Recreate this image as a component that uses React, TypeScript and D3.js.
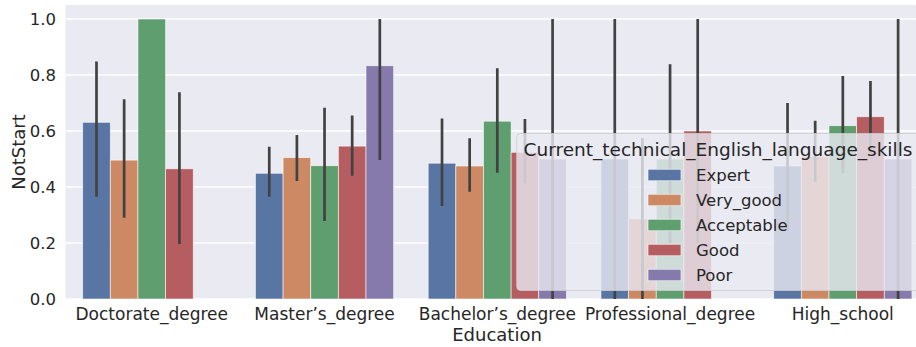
import React from "react";
import * as d3 from "d3";

const categories = ["Doctorate_degree", "Master’s_degree", "Bachelor’s_degree", "Professional_degree", "High_school"];
const hues = ["Expert", "Very_good", "Acceptable", "Good", "Poor"];
const hueColors = ["#5975a4", "#cc8963", "#5f9e6e", "#b55d60", "#857aab"];

const expertMean = [0.631, 0.449, 0.485, 0.5, 0.475];
const expertLow = [0.365, 0.365, 0.332, 0, 0.246];
const expertHigh = [0.848, 0.544, 0.645, 1.0, 0.7];

const veryGoodMean = [0.496, 0.505, 0.475, 0.286, 0.51];
const veryGoodLow = [0.29, 0.421, 0.383, 0, 0.419];
const veryGoodHigh = [0.713, 0.586, 0.574, 0.574, 0.637];

const acceptableMean = [1.0, 0.476, 0.635, 0.5, 0.619];
const acceptableLow = [1.0, 0.279, 0.451, 0.2, 0.45];
const acceptableHigh = [1.0, 0.683, 0.824, 0.838, 0.796];

const goodMean = [0.465, 0.546, 0.524, 0.6, 0.651];
const goodLow = [0.196, 0.44, 0.413, 0.2, 0.52];
const goodHigh = [0.738, 0.655, 0.643, 1.0, 0.779];

const poorMean = [null, 0.833, 0.5, null, 0.5];
const poorLow = [null, 0.496, 0, null, 0];
const poorHigh = [null, 1.0, 1.0, null, 1.0];

const yTicks = [0, 0.2, 0.4, 0.6, 0.8, 1.0];

const series = [
  { mean: expertMean, low: expertLow, high: expertHigh },
  { mean: veryGoodMean, low: veryGoodLow, high: veryGoodHigh },
  { mean: acceptableMean, low: acceptableLow, high: acceptableHigh },
  { mean: goodMean, low: goodLow, high: goodHigh },
  { mean: poorMean, low: poorLow, high: poorHigh },
];

const W = 916;
const H = 347;
const left = 65.4;
const right = 929.2;
const top = 5;
const bottom = 299;
const FONT = "DejaVu Sans, sans-serif";
const TXT = "#262626";

export default function App() {
  const x = d3.scaleBand<string>().domain(categories).range([left, right]).padding(0);
  const bw = x.bandwidth();
  const inner = d3.scaleBand<string>().domain(hues).range([bw * 0.1, bw * 0.9]).padding(0);
  const y = d3.scaleLinear().domain([0, 1.05]).range([bottom, top]);

  const legendLeft = 516.7;
  const legendTop = 133.5;
  const legendBottom = 290.5;
  const legendRight = 922;
  const legendCenter = 718;
  const patchX = 648;
  const rowY = (i: number) => 175 + i * 25;

  return (
    <svg width={W} height={H} style={{ position: "absolute", left: 0, top: 0, background: "#fff" }} fontFamily={FONT}>
      <defs>
        <clipPath id="plotclip">
          <rect x={left} y={top} width={W - left} height={bottom - top} />
        </clipPath>
      </defs>
      <rect x={left} y={top} width={W - left} height={bottom - top} fill="#eaeaf2" />
      {yTicks.map((t) => (
        <line key={t} x1={left} x2={W} y1={y(t)} y2={y(t)} stroke="#fff" strokeWidth={1.5} />
      ))}
      <g clipPath="url(#plotclip)">
        {series.map((s, hi) =>
          categories.map((c, ci) => {
            const v = s.mean[ci];
            if (v === null) return null;
            const bx = (x(c) as number) + (inner(hues[hi]) as number);
            return (
              <rect
                key={`b${hi}-${ci}`}
                x={bx}
                y={y(v)}
                width={inner.bandwidth()}
                height={y(0) - y(v)}
                fill={hueColors[hi]}
                stroke="#ffffff"
                strokeWidth={0.8}
                strokeOpacity={0.7}
              />
            );
          })
        )}
        {series.map((s, hi) =>
          categories.map((c, ci) => {
            const lo = s.low[ci];
            const hiV = s.high[ci];
            if (lo === null || hiV === null || lo === hiV) return null;
            const cx = (x(c) as number) + (inner(hues[hi]) as number) + inner.bandwidth() / 2;
            return (
              <line key={`e${hi}-${ci}`} x1={cx} x2={cx} y1={y(lo)} y2={y(hiV)} stroke="#424242" strokeWidth={2.7} />
            );
          })
        )}
      </g>
      {yTicks.map((t) => (
        <text key={`yt${t}`} x={56} y={y(t)} dy="0.35em" textAnchor="end" fontSize={16.5} fill={TXT}>
          {d3.format(".1f")(t)}
        </text>
      ))}
      {categories.map((c) => (
        <text key={`xt${c}`} x={(x(c) as number) + bw / 2} y={320} textAnchor="middle" fontSize={17} fill={TXT}>
          {c}
        </text>
      ))}
      <text x={497} y={340.5} textAnchor="middle" fontSize={18} fill={TXT}>
        Education
      </text>
      <text transform={`translate(25,${(top + bottom) / 2}) rotate(-90)`} textAnchor="middle" fontSize={18} fill={TXT}>
        NotStart
      </text>
      <rect
        x={legendLeft}
        y={legendTop}
        width={legendRight - legendLeft}
        height={legendBottom - legendTop}
        rx={4}
        ry={4}
        fill="#eaeaf2"
        fillOpacity={0.8}
        stroke="#cccccc"
        strokeOpacity={0.8}
        strokeWidth={1}
      />
      <text x={legendCenter} y={155.5} textAnchor="middle" fontSize={18.5} fill={TXT}>
        Current_technical_English_language_skills
      </text>
      {hues.map((h, i) => (
        <g key={`lg${h}`}>
          <rect x={patchX} y={rowY(i) - 5.8} width={33} height={11.6} fill={hueColors[i]} stroke="#fff" strokeWidth={0.6} />
          <text x={696} y={rowY(i)} dy="0.35em" fontSize={16.5} fill={TXT}>
            {h}
          </text>
        </g>
      ))}
    </svg>
  );
}
